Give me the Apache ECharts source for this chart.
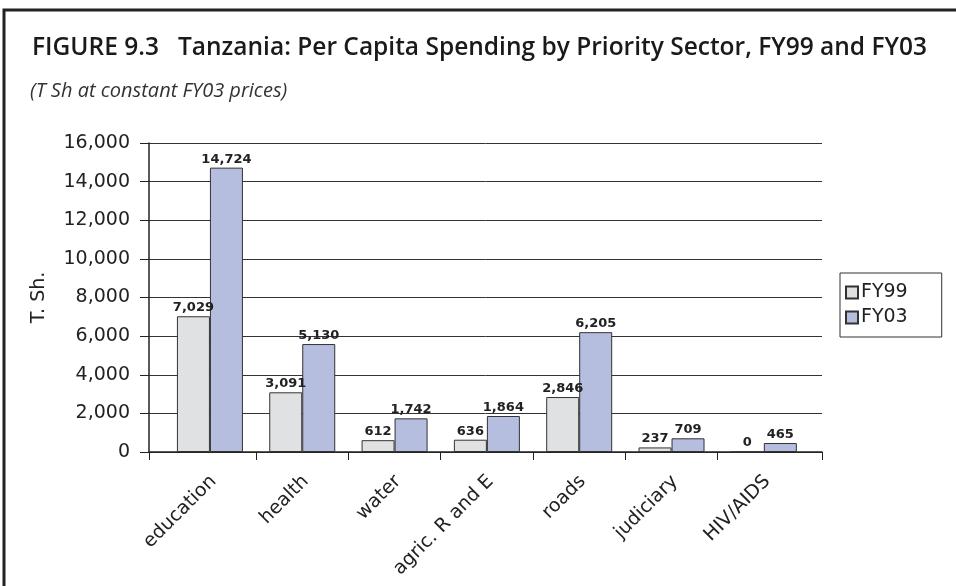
<!DOCTYPE html>
<html>
	<head>
		<meta charset="utf-8" />
		<title>Tanzania per capita spending</title>
		<script type="text/javascript" src="https://cdn.jsdelivr.net/npm/echarts@6/dist/echarts.min.js"></script>
	</head>
	<body style="margin:0;background:#fff;">
		<div id="chart" style="width:956px;height:586px;"></div>
	</body>
	<script>
	var sectors = ['education', 'health', 'water', 'agric. R and E', 'roads', 'judiciary', 'HIV/AIDS'];
	var fy99 = [7029, 3091, 612, 636, 2846, 237, 0];
	// bar heights as drawn (health bar is drawn higher than its printed label)
	var fy03 = [14724, 5590, 1742, 1864, 6205, 709, 465];
	// numbers printed above the FY03 bars
	var fy03Printed = [14724, 5130, 1742, 1864, 6205, 709, 465];
	var yTicks = [0, 2000, 4000, 6000, 8000, 10000, 12000, 14000, 16000];

	var font = 'DejaVu Sans';
	function fmt(v){
		return v.toString().replace(/\B(?=(\d{3})+(?!\d))/g, ',');
	}

	// x axis runs in "category units"; the plot area has a little slack on both ends
	var n = sectors.length;
	var xMin = -0.16, xMax = n + 0.13;
	var xTicks = [xMin];
	for (var i = 1; i < n; i++) xTicks.push(i);
	xTicks.push(xMax);
	var xCenters = sectors.map(function(s, i){ return i + 0.5; });

	function pairs(arr){
		return arr.map(function(v, i){ return [xCenters[i], v]; });
	}

	var myChart = echarts.init(document.getElementById('chart'), null, {renderer: 'canvas'});
	var option = {
		animation: false,
		title: [
			{
				text: 'FIGURE 9.3   Tanzania: Per Capita Spending by Priority Sector, FY99 and FY03',
				left: 27,
				top: 31,
				textStyle: {fontFamily: 'Open Sans', fontSize: 24.5, fontWeight: 600, color: '#1a1a1a'}
			},
			{
				text: '(T Sh at constant FY03 prices)',
				left: 25,
				top: 76,
				textStyle: {fontFamily: 'Open Sans', fontSize: 20, fontWeight: 'normal', fontStyle: 'italic', color: '#333'}
			}
		],
		graphic: [{
			type: 'polyline',
			shape: {points: [[4, 586], [4, 10], [956, 10]]},
			style: {stroke: '#222', lineWidth: 3, fill: null}
		}],
		legend: {
			orient: 'vertical',
			left: 840,
			top: 273,
			padding: [10, 34, 10, 5],
			borderColor: '#333',
			borderWidth: 1,
			itemWidth: 12,
			itemHeight: 12,
			itemGap: 6,
			icon: 'rect',
			textStyle: {fontFamily: font, fontSize: 19, color: '#222', padding: [0, 0, 0, -2]},
			data: ['FY99', 'FY03']
		},
		grid: {left: 149, right: 134, top: 143, bottom: 134, containLabel: false},
		xAxis: {
			type: 'value',
			min: xMin,
			max: xMax,
			splitLine: {show: false},
			axisLine: {show: true, onZero: false, lineStyle: {color: '#222', width: 1.5}},
			axisTick: {show: true, length: 8, customValues: xTicks, lineStyle: {color: '#222'}},
			axisLabel: {
				customValues: xCenters,
				rotate: 45,
				margin: 30,
				padding: [0, -5, 0, 0],
				fontFamily: font,
				fontSize: 19,
				color: '#222',
				formatter: function(v){ return sectors[Math.floor(v)]; }
			}
		},
		yAxis: {
			type: 'value',
			min: yTicks[0],
			max: yTicks[yTicks.length - 1],
			interval: 2000,
			name: 'T. Sh.',
			nameLocation: 'middle',
			nameGap: 100,
			nameRotate: 90,
			nameTextStyle: {fontFamily: font, fontSize: 19, color: '#222'},
			axisLine: {show: true, onZero: false, lineStyle: {color: '#222', width: 1.5}},
			axisTick: {show: true, length: 9, lineStyle: {color: '#222'}},
			axisLabel: {fontFamily: font, fontSize: 19, color: '#222', margin: 19, formatter: fmt},
			splitLine: {show: true, lineStyle: {color: '#333', width: 1}}
		},
		series: [
			{
				name: 'FY99',
				type: 'bar',
				data: pairs(fy99),
				barWidth: 33,
				barGap: '0%',
				itemStyle: {color: '#e0e1e3', borderColor: '#333', borderWidth: 1},
				label: {
					show: true,
					position: 'top',
					distance: 2,
					fontFamily: font,
					fontSize: 13,
					fontWeight: 'bold',
					color: '#222',
					formatter: function(p){ return fmt(p.value[1]); }
				}
			},
			{
				name: 'FY03',
				type: 'bar',
				data: pairs(fy03),
				barWidth: 33,
				barGap: '0%',
				itemStyle: {color: '#b5bedf', borderColor: '#333', borderWidth: 1},
				label: {
					show: true,
					position: 'top',
					distance: 2,
					fontFamily: font,
					fontSize: 13,
					fontWeight: 'bold',
					color: '#222',
					formatter: function(p){ return fmt(fy03Printed[p.dataIndex]); }
				}
			}
		]
	};
	myChart.setOption(option);
	</script>
</html>
